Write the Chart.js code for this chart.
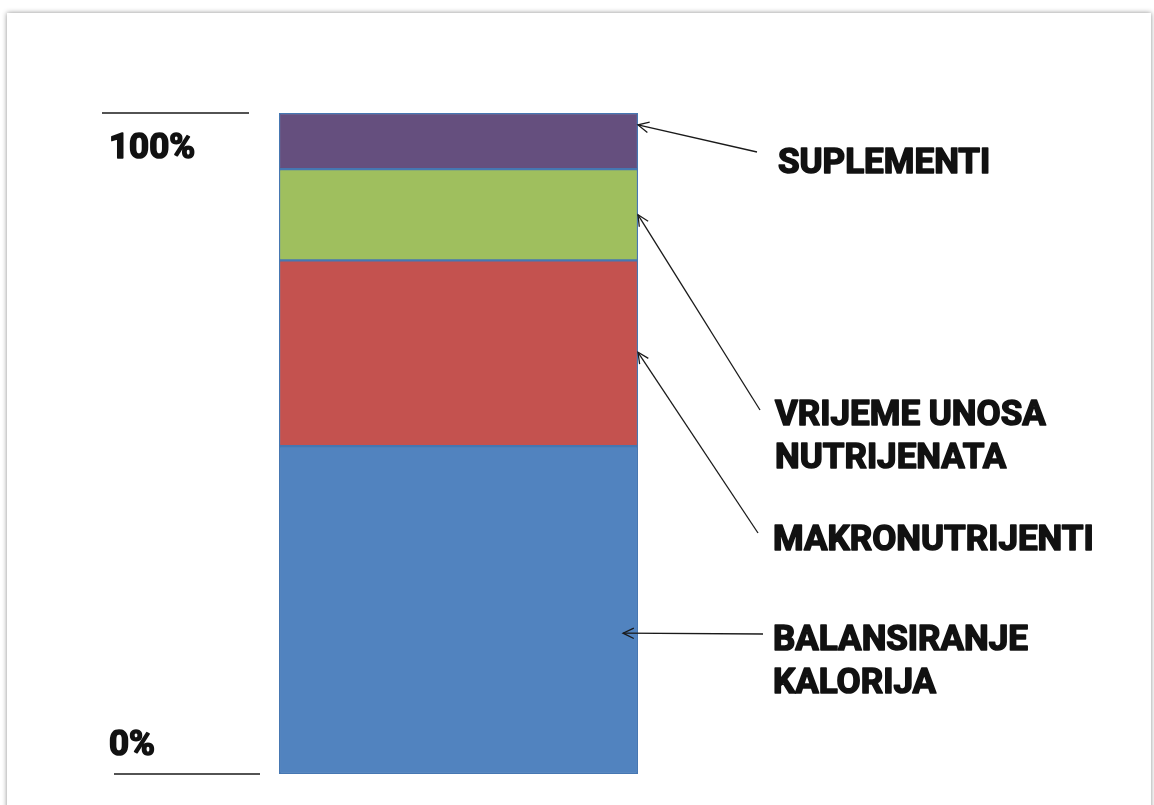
<!DOCTYPE html>
<html>
<head>
<meta charset="utf-8">
<script src="https://cdn.jsdelivr.net/npm/chart.js@4/dist/chart.umd.min.js"></script>
<style>
  html, body { margin: 0; padding: 0; background: #ffffff; }
  #c { display: block; }
</style>
</head>
<body>
<canvas id="c" width="1154" height="805"></canvas>
<script>
// ---- data ----
const categories = [''];
const seriesNames = ['BALANSIRANJE KALORIJA', 'MAKRONUTRIJENTI', 'VRIJEME UNOSA NUTRIJENATA', 'SUPLEMENTI'];
const seriesValues = [49.6, 28.1, 13.8, 8.5];
const seriesColors = ['#5183BF', '#C4524F', '#9FBF5E', '#654F7E'];
const tickLabels = ['0%', '100%'];
const tickValues = [0, 100];

// callout labels (lines) and the value on the bar each arrow points to
const calloutLines = [
  ['BALANSIRANJE', 'KALORIJA'],
  ['MAKRONUTRIJENTI'],
  ['VRIJEME UNOSA', 'NUTRIJENATA'],
  ['SUPLEMENTI']
];
const calloutTargets = [21.3, 63.8, 84.6, 98.2];

// ---- layout (pixels) ----
const FONT = 'bold 35px Roboto, "DejaVu Sans", sans-serif';
const calloutLayout = [
  { textX: 773, baseY: 650, lineH: 43, fromX: 763, fromY: 634, inset: 15 },
  { textX: 773, baseY: 550, lineH: 43, fromX: 758, fromY: 533, inset: 0 },
  { textX: 775, baseY: 425, lineH: 43, fromX: 760, fromY: 410, inset: 0 },
  { textX: 778, baseY: 173, lineH: 43, fromX: 757, fromY: 152, inset: 0 }
];
const tickLayout = [
  { textX: 109, baseY: 755, lineX1: 114, lineX2: 260 },
  { textX: 109, baseY: 158, lineX1: 102, lineX2: 249 }
];

function arrow(ctx, x1, y1, x2, y2) {
  ctx.beginPath();
  ctx.moveTo(x1, y1);
  ctx.lineTo(x2, y2);
  ctx.stroke();
  const a = Math.atan2(y2 - y1, x2 - x1);
  const L = 12, s = 0.45;
  ctx.beginPath();
  ctx.moveTo(x2 - L * Math.cos(a - s), y2 - L * Math.sin(a - s));
  ctx.lineTo(x2, y2);
  ctx.lineTo(x2 - L * Math.cos(a + s), y2 - L * Math.sin(a + s));
  ctx.stroke();
}

function boldText(ctx, txt, x, y) {
  ctx.save();
  ctx.lineWidth = 1.6;
  ctx.lineJoin = 'round';
  ctx.strokeStyle = '#111111';
  ctx.strokeText(txt, x, y);
  ctx.fillText(txt, x, y);
  ctx.restore();
}

const framePlugin = {
  id: 'frame',
  beforeDraw(chart) {
    const ctx = chart.ctx;
    ctx.save();
    ctx.fillStyle = '#ffffff';
    ctx.fillRect(0, 0, chart.width, chart.height);
    ctx.shadowColor = 'rgba(0,0,0,0.45)';
    ctx.shadowBlur = 5;
    ctx.fillStyle = '#ffffff';
    ctx.fillRect(7, 13, 1144, 820);
    ctx.restore();
  }
};

const annotatePlugin = {
  id: 'annotate',
  afterDatasetsDraw(chart) {
    const ctx = chart.ctx;
    const y = chart.scales.y;
    const bar = chart.getDatasetMeta(0).data[0];
    const barRight = bar.x + bar.width / 2;
    ctx.save();
    ctx.fillStyle = '#111111';
    ctx.strokeStyle = '#1a1a1a';
    ctx.font = FONT;
    ctx.textBaseline = 'alphabetic';
    ctx.textAlign = 'left';

    // tick lines + labels
    tickValues.forEach((v, i) => {
      const t = tickLayout[i];
      const py = y.getPixelForValue(v);
      ctx.lineWidth = 1.6;
      ctx.beginPath();
      ctx.moveTo(t.lineX1, py);
      ctx.lineTo(t.lineX2, py);
      ctx.stroke();
      boldText(ctx, tickLabels[i], t.textX, t.baseY);
    });

    // callouts
    calloutLines.forEach((lines, i) => {
      const c = calloutLayout[i];
      lines.forEach((ln, k) => boldText(ctx, ln, c.textX, c.baseY + k * c.lineH));
      ctx.lineWidth = 1.3;
      ctx.strokeStyle = '#1a1a1a';
      arrow(ctx, c.fromX, c.fromY, barRight - c.inset, y.getPixelForValue(calloutTargets[i]));
    });
    ctx.restore();
  }
};

new Chart(document.getElementById('c'), {
  type: 'bar',
  data: {
    labels: categories,
    datasets: seriesNames.map((n, i) => ({
      label: n,
      data: [seriesValues[i]],
      backgroundColor: seriesColors[i],
      borderColor: '#4677B2',
      borderWidth: 1.5,
      borderSkipped: false,
      barPercentage: 1,
      categoryPercentage: 1,
      stack: 's'
    }))
  },
  options: {
    responsive: false,
    animation: false,
    layout: { padding: { left: 279, right: 516, top: 113, bottom: 31 } },
    scales: {
      x: { display: false, stacked: true },
      y: { display: false, stacked: true, min: 0, max: 100 }
    },
    plugins: { legend: { display: false }, tooltip: { enabled: false } }
  },
  plugins: [framePlugin, annotatePlugin]
});
</script>
</body>
</html>
